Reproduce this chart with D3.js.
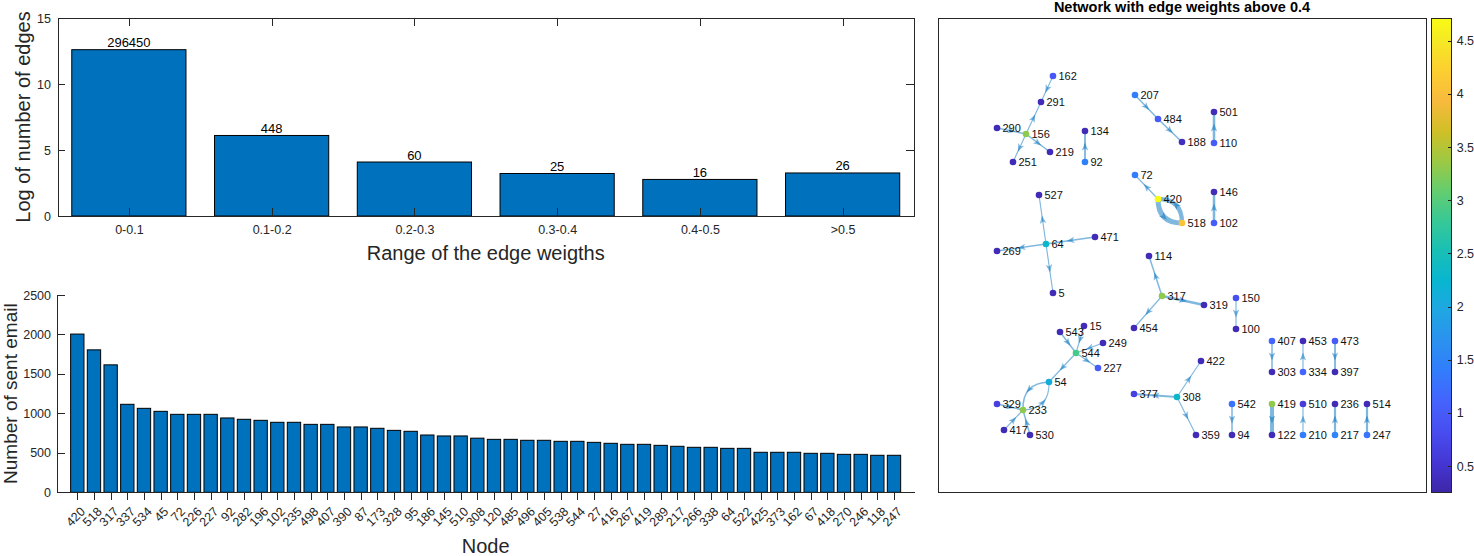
<!DOCTYPE html>
<html>
<head>
<meta charset="utf-8">
<script src="https://cdn.jsdelivr.net/npm/d3@7"></script>
<style>
  body { margin: 0; background: #fff; }
  svg text { font-family: "Liberation Sans", Arial, Helvetica, sans-serif; }
  .axis path, .axis line { stroke: #262626; shape-rendering: crispEdges; }
  .axis text { fill: #262626; }
</style>
</head>
<body>
<svg id="fig" width="1474" height="556"></svg>
<script>
// ---- top bar chart: edge weight ranges ----
const weightRanges = ['0-0.1', '0.1-0.2', '0.2-0.3', '0.3-0.4', '0.4-0.5', '>0.5'];
const edgeCounts = [296450, 448, 60, 25, 16, 26];
const logEdgeCounts = [12.6, 6.1, 4.09, 3.22, 2.77, 3.26];
const logTicks = [0, 5, 10, 15];

// ---- bottom bar chart: sent emails per node ----
const senderNodes = [420, 518, 317, 337, 534, 45, 72, 226, 227, 92, 282, 196, 102, 235, 498, 407, 390, 87,
  173, 328, 95, 186, 145, 510, 308, 120, 485, 496, 405, 538, 544, 27, 416, 267, 419, 289, 217, 266, 338,
  64, 522, 425, 373, 162, 67, 418, 270, 246, 118, 247];
const sentEmails = [2005, 1805, 1615, 1115, 1064, 1026, 988, 988, 988, 942, 925, 912, 887, 887, 861, 861, 828,
  828, 811, 785, 773, 726, 714, 714, 686, 671, 671, 659, 659, 646, 646, 633, 621, 608, 608, 595, 583, 570,
  570, 557, 557, 507, 507, 507, 494, 494, 481, 481, 469, 469];
const emailTicks = [0, 500, 1000, 1500, 2000, 2500];

// ---- network: node layout (layout units) and colour value ----
const netIds = [162, 291, 290, 156, 219, 251, 134, 92, 207, 484, 188, 501, 110, 72, 420, 518, 146, 102,
  527, 64, 471, 269, 5, 114, 317, 319, 454, 543, 15, 249, 544, 227, 54, 329, 233, 417, 530, 422, 377,
  308, 359, 150, 100, 407, 453, 473, 303, 334, 397, 542, 419, 510, 236, 514, 94, 122, 210, 217, 247];
const netX = [115, 103, 59, 88, 112, 75, 147, 147, 197, 220, 244, 276, 276, 197, 220, 244, 276, 276,
  101, 108, 157, 59, 115, 211, 224, 266, 196, 122, 146, 165, 138, 160, 111, 59, 85, 66, 92, 263, 196,
  239, 258, 298, 298, 334, 365, 397, 334, 365, 397, 294, 334, 365, 397, 429, 294, 334, 365, 397, 429];
const netY = [58, 84, 110, 116, 134, 144, 113, 144, 77, 101, 124, 94, 125, 157, 181, 205, 174, 205,
  177, 226, 219, 233, 275, 238, 278, 287, 310, 314, 308, 325, 335, 350, 364, 386, 392, 412, 417, 343,
  376, 379, 417, 280, 311, 323, 323, 323, 354, 354, 354, 386, 386, 386, 386, 386, 417, 417, 417, 417, 417];
const netValue = [0.95, 0.35, 0.35, 3.3, 0.35, 0.35, 0.35, 1.45, 1.4, 1.0, 0.4, 0.35, 1.0, 1.4, 4.71,
  4.05, 0.35, 1.0, 0.35, 2.3, 0.35, 0.35, 0.35, 0.35, 3.3, 0.35, 0.35, 0.35, 0.35, 0.35, 2.9, 1.0, 2.1,
  0.65, 3.3, 0.35, 0.35, 0.35, 0.65, 2.3, 0.35, 0.85, 0.35, 1.1, 0.35, 1.0, 0.35, 1.1, 0.35, 1.3, 3.3,
  0.6, 0.35, 0.35, 0.35, 0.35, 1.4, 1.5, 1.3];

// ---- network: directed edges and weights ----
const edgeSource = [162, 156, 290, 156, 156, 92, 207, 484, 110, 420, 420, 518, 102, 64, 471, 64, 64, 317,
  317, 317, 543, 15, 249, 544, 544, 54, 233, 329, 417, 530, 308, 308, 308, 150, 407, 334, 473, 542, 419,
  210, 217, 247];
const edgeTarget = [291, 291, 156, 219, 251, 134, 484, 188, 501, 72, 518, 420, 146, 527, 64, 269, 5, 114,
  319, 454, 544, 544, 544, 227, 54, 233, 54, 233, 233, 233, 422, 377, 359, 100, 303, 453, 397, 94, 122,
  510, 236, 514];
const edgeWeight = [0.45, 0.45, 0.5, 0.5, 0.45, 0.55, 0.5, 0.5, 0.65, 0.45, 1.0, 0.9, 0.65, 0.45, 0.5, 0.5,
  0.45, 0.5, 0.65, 0.45, 0.5, 0.45, 0.45, 0.45, 0.45, 0.5, 0.45, 0.5, 0.45, 0.5, 0.45, 0.55, 0.45, 0.45,
  0.5, 0.45, 0.55, 0.5, 0.85, 0.45, 0.6, 0.6];

const colorbarTicks = [0.5, 1, 1.5, 2, 2.5, 3, 3.5, 4, 4.5];
const colorLimits = [0.256, 4.713];

// parula (sampled every 4th entry of the 64-colour map)
const parulaRGB = [
  [0.2422, 0.1504, 0.6603], [0.2706, 0.2147, 0.8364], [0.2813, 0.3006, 0.9414], [0.2699, 0.3892, 0.9906],
  [0.1963, 0.4847, 0.9892], [0.1687, 0.5703, 0.9359], [0.1248, 0.6459, 0.8883], [0.0297, 0.7082, 0.8163],
  [0.0964, 0.7500, 0.7120], [0.2161, 0.7843, 0.5923], [0.3909, 0.8029, 0.4354], [0.6174, 0.7876, 0.2612],
  [0.8203, 0.7498, 0.1535], [0.9728, 0.7298, 0.2394], [0.9892, 0.8136, 0.1885], [0.9597, 0.9135, 0.1423],
  [0.9769, 0.9839, 0.0805]
];
const parulaPos = parulaRGB.map((d, i) => (i === parulaRGB.length - 1 ? 1 : (i * 4) / 63));
const parulaHex = parulaRGB.map(c => d3.rgb(c[0] * 255, c[1] * 255, c[2] * 255).formatHex());
const parula = d3.scaleLinear().domain(parulaPos).range(parulaHex).interpolate(d3.interpolateRgb).clamp(true);

const svg = d3.select('#fig');
const barBlue = '#0072BD';
const ink = '#262626';

// ============ top chart ============
const topX = d3.scaleLinear().domain([0.5, 6.5]).range([57.5, 914]);
const topY = d3.scaleLinear().domain([0, 15]).range([216, 18]);
const topG = svg.append('g');

topG.selectAll('rect.bar')
  .data(logEdgeCounts)
  .enter()
  .append('rect')
  .attr('class', 'bar')
  .attr('x', (d, i) => topX(i + 1 - 0.4))
  .attr('y', d => topY(d))
  .attr('width', topX(1.4) - topX(0.6))
  .attr('height', d => topY(0) - topY(d))
  .attr('fill', barBlue)
  .attr('stroke', '#000')
  .attr('stroke-width', 1);

topG.selectAll('text.count')
  .data(logEdgeCounts)
  .enter()
  .append('text')
  .attr('class', 'count')
  .attr('x', (d, i) => topX(i + 1))
  .attr('y', d => topY(d) - 2.5)
  .attr('text-anchor', 'middle')
  .attr('font-size', 13)
  .attr('fill', '#000')
  .text((d, i) => edgeCounts[i]);

topG.append('g').attr('class', 'axis')
  .attr('transform', 'translate(0,216)')
  .call(d3.axisBottom(topX).tickValues(d3.range(1, 7)).tickFormat(i => weightRanges[i - 1])
    .tickSize(-7.7).tickSizeOuter(0).tickPadding(9))
  .call(g => g.selectAll('text').attr('font-size', 12.5));
topG.append('g').attr('class', 'axis')
  .attr('transform', 'translate(0,18)')
  .call(d3.axisTop(topX).tickValues(d3.range(1, 7)).tickFormat('').tickSize(-7.7).tickSizeOuter(0));
topG.append('g').attr('class', 'axis')
  .attr('transform', 'translate(57.5,0)')
  .call(d3.axisLeft(topY).tickValues(logTicks).tickFormat(d3.format('d'))
    .tickSize(-7.7).tickSizeOuter(0).tickPadding(6.5))
  .call(g => g.selectAll('text').attr('font-size', 12.5));
topG.append('g').attr('class', 'axis')
  .attr('transform', 'translate(914,0)')
  .call(d3.axisRight(topY).tickValues(logTicks).tickFormat('').tickSize(-7.7).tickSizeOuter(0));

topG.append('text')
  .attr('x', (57.5 + 914) / 2).attr('y', 260)
  .attr('text-anchor', 'middle').attr('font-size', 20).attr('fill', ink)
  .text('Range of the edge weigths');
topG.append('text')
  .attr('transform', `translate(30,${(18 + 216) / 2}) rotate(-90)`)
  .attr('text-anchor', 'middle').attr('font-size', 20).attr('fill', ink)
  .text('Log of number of edges');

// ============ bottom chart ============
const botX = d3.scaleLinear().domain([-0.2, 51.2]).range([57.3, 914]);
const botY = d3.scaleLinear().domain([0, 2500]).range([492.3, 295]);
const botG = svg.append('g');

botG.selectAll('rect.bar')
  .data(sentEmails)
  .enter()
  .append('rect')
  .attr('class', 'bar')
  .attr('x', (d, i) => botX(i + 1 - 0.4))
  .attr('y', d => botY(d))
  .attr('width', botX(1.4) - botX(0.6))
  .attr('height', d => botY(0) - botY(d))
  .attr('fill', barBlue)
  .attr('stroke', '#000')
  .attr('stroke-width', 1);

botG.append('g').attr('class', 'axis')
  .attr('transform', 'translate(0,492.3)')
  .call(d3.axisBottom(botX).tickValues(d3.range(1, 51)).tickFormat(i => senderNodes[i - 1])
    .tickSize(8).tickSizeOuter(0))
  .call(g => g.selectAll('text')
    .attr('font-size', 12.5)
    .attr('text-anchor', 'end')
    .attr('x', 0).attr('y', 0).attr('dy', '0.35em')
    .attr('transform', 'translate(5,17) rotate(-45)'));
botG.append('g').attr('class', 'axis')
  .attr('transform', 'translate(57.3,0)')
  .call(d3.axisLeft(botY).tickValues(emailTicks).tickFormat(d3.format('d'))
    .tickSize(-7.7).tickSizeOuter(0).tickPadding(6.3))
  .call(g => g.selectAll('text').attr('font-size', 12.5));

botG.append('text')
  .attr('x', (57.3 + 914) / 2).attr('y', 553)
  .attr('text-anchor', 'middle').attr('font-size', 20).attr('fill', ink)
  .text('Node');
botG.append('text')
  .attr('transform', `translate(17,${(295 + 492.3) / 2}) rotate(-90)`)
  .attr('text-anchor', 'middle').attr('font-size', 19).attr('fill', ink)
  .text('Number of sent email');

// ============ network ============
const box = { x0: 938, x1: 1426, y0: 18, y1: 492 };
const nx = d3.scaleLinear().domain([0, 488]).range([box.x0, box.x1]);
const ny = d3.scaleLinear().domain([0, 474]).range([box.y0, box.y1]);
const cval = v => parula((v - colorLimits[0]) / (colorLimits[1] - colorLimits[0]));
const lw = d3.scaleLinear().domain([0.4, 1]).range([0.8, 5]);

const nodes = netIds.map((id, i) => ({ id, x: nx(netX[i]), y: ny(netY[i]), v: netValue[i] }));
const byId = new Map(nodes.map(n => [n.id, n]));
const pairs = new Set(edgeSource.map((s, i) => s + '>' + edgeTarget[i]));
const edges = edgeSource.map((s, i) => {
  const a = byId.get(s);
  const b = byId.get(edgeTarget[i]);
  const dx = b.x - a.x;
  const dy = b.y - a.y;
  const len = Math.hypot(dx, dy);
  const curved = pairs.has(edgeTarget[i] + '>' + s);
  const off = curved ? 0.5 * len : 0;
  const cx = (a.x + b.x) / 2 + (-dy / len) * off;
  const cy = (a.y + b.y) / 2 + (dx / len) * off;
  return {
    a, b, w: edgeWeight[i], curved, cx, cy,
    mx: 0.25 * a.x + 0.5 * cx + 0.25 * b.x,
    my: 0.25 * a.y + 0.5 * cy + 0.25 * b.y,
    ang: Math.atan2(dy, dx) * 180 / Math.PI
  };
});

const net = svg.append('g');
net.append('rect')
  .attr('x', box.x0).attr('y', box.y0)
  .attr('width', box.x1 - box.x0).attr('height', box.y1 - box.y0)
  .attr('fill', '#fff').attr('stroke', ink).attr('stroke-width', 1)
  .attr('shape-rendering', 'crispEdges');

net.selectAll('path.edge')
  .data(edges)
  .enter()
  .append('path')
  .attr('class', 'edge')
  .attr('d', d => d.curved
    ? `M${d.a.x},${d.a.y}Q${d.cx},${d.cy} ${d.b.x},${d.b.y}`
    : `M${d.a.x},${d.a.y}L${d.b.x},${d.b.y}`)
  .attr('fill', 'none')
  .attr('stroke', barBlue)
  .attr('stroke-opacity', 0.5)
  .attr('stroke-width', d => lw(d.w));

net.selectAll('path.arrow')
  .data(edges)
  .enter()
  .append('path')
  .attr('class', 'arrow')
  .attr('d', 'M4,0L-4,-3.2L-2,0L-4,3.2Z')
  .attr('transform', d => `translate(${d.mx},${d.my}) rotate(${d.ang})`)
  .attr('fill', barBlue)
  .attr('fill-opacity', 0.5);

net.selectAll('circle.node')
  .data(nodes)
  .enter()
  .append('circle')
  .attr('class', 'node')
  .attr('cx', d => d.x)
  .attr('cy', d => d.y)
  .attr('r', 3.3)
  .attr('fill', d => cval(d.v));

net.selectAll('text.lbl')
  .data(nodes)
  .enter()
  .append('text')
  .attr('class', 'lbl')
  .attr('x', d => d.x + 5.5)
  .attr('y', d => d.y)
  .attr('dy', '0.36em')
  .attr('font-size', 11)
  .attr('fill', '#111')
  .text(d => d.id);

net.append('text')
  .attr('x', (box.x0 + box.x1) / 2).attr('y', 11.5)
  .attr('text-anchor', 'middle').attr('font-size', 14.5).attr('font-weight', 'bold').attr('fill', '#000')
  .text('Network with edge weights above 0.4');

// colorbar
const cb = { x0: 1431.7, x1: 1451.7 };
const cbY = d3.scaleLinear().domain(colorLimits).range([box.y1, box.y0]);
const grad = svg.append('defs').append('linearGradient')
  .attr('id', 'parula').attr('x1', 0).attr('y1', 1).attr('x2', 0).attr('y2', 0);
grad.selectAll('stop')
  .data(parulaPos)
  .enter()
  .append('stop')
  .attr('offset', d => d)
  .attr('stop-color', (d, i) => parulaHex[i]);

svg.append('rect')
  .attr('x', cb.x0).attr('y', box.y0)
  .attr('width', cb.x1 - cb.x0).attr('height', box.y1 - box.y0)
  .attr('fill', 'url(#parula)').attr('stroke', ink).attr('stroke-width', 1)
  .attr('shape-rendering', 'crispEdges');

svg.append('g').attr('class', 'axis')
  .attr('transform', `translate(${cb.x1},0)`)
  .call(d3.axisRight(cbY).tickValues(colorbarTicks).tickFormat(d3.format('')).tickSize(-3.5)
    .tickSizeOuter(0).tickPadding(5))
  .call(g => g.select('.domain').remove())
  .call(g => g.selectAll('text').attr('font-size', 12.5));
</script>
</body>
</html>
